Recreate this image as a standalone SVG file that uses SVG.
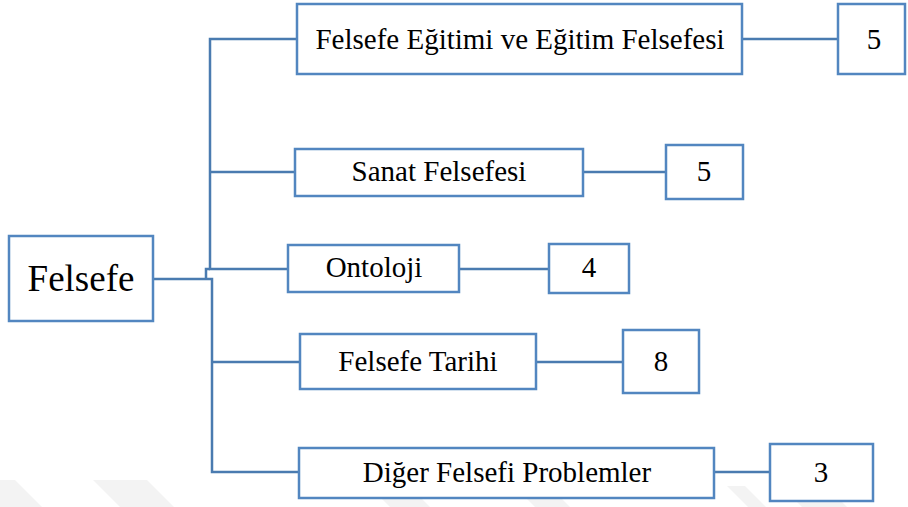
<svg xmlns="http://www.w3.org/2000/svg" width="908" height="507" viewBox="0 0 908 507">
<style>
.box{fill:#ffffff;stroke:#5286c0;stroke-width:2.5}
.ln{fill:none;stroke:#4a7bb0;stroke-width:2.5}
.t{font-family:"Liberation Serif","Times New Roman",serif;font-size:29px;fill:#000;text-anchor:middle}
.wm{fill:#f3f3f3}
</style>
<g id="watermark">
<polygon class="wm" points="-40,480 15,480 42,507 -13,507"/>
<polygon class="wm" points="93,480 147,480 174,507 120,507"/>
<polygon class="wm" points="380,497 420,497 430,507 390,507"/>
<polygon class="wm" points="525,497 560,497 570,507 535,507"/>
<polygon class="wm" points="727,486 745,486 766,507 748,507"/>
<polygon class="wm" points="795,500 840,500 847,507 802,507"/>
</g>
<g id="connectors">
<polyline class="ln" points="297,39 210,39 210,269 289,269"/>
<line class="ln" x1="210" y1="172" x2="296" y2="172"/>
<polyline class="ln" points="153,279 212,279 212,472 299,472"/>
<polyline class="ln" points="206,279 206,269 210,269"/>
<line class="ln" x1="212" y1="362" x2="300" y2="362"/>
<line class="ln" x1="742" y1="39" x2="838" y2="39"/>
<line class="ln" x1="583" y1="172" x2="666" y2="172"/>
<line class="ln" x1="459" y1="269" x2="549" y2="269"/>
<line class="ln" x1="536" y1="362" x2="623" y2="362"/>
<line class="ln" x1="714" y1="472" x2="770" y2="472"/>
</g>
<g id="n-felsefe">
<rect class="box" x="9" y="236" width="144" height="85"/>
<text class="t" x="81" y="291" style="font-size:37px">Felsefe</text>
</g>
<g id="n-egitim">
<rect class="box" x="297" y="4" width="445" height="70"/>
<text class="t" x="520" y="49">Felsefe Eğitimi ve Eğitim Felsefesi</text>
</g>
<g id="n-egitim-count">
<rect class="box" x="838" y="4" width="67" height="70"/>
<text class="t" x="874" y="49">5</text>
</g>
<g id="n-sanat">
<rect class="box" x="295" y="149" width="288" height="47"/>
<text class="t" x="439" y="181">Sanat Felsefesi</text>
</g>
<g id="n-sanat-count">
<rect class="box" x="666" y="145" width="77" height="54"/>
<text class="t" x="704" y="181">5</text>
</g>
<g id="n-ontoloji">
<rect class="box" x="288" y="245" width="171" height="47"/>
<text class="t" x="374" y="277">Ontoloji</text>
</g>
<g id="n-ontoloji-count">
<rect class="box" x="549" y="244" width="80" height="49"/>
<text class="t" x="589" y="277">4</text>
</g>
<g id="n-tarih">
<rect class="box" x="300" y="334" width="236" height="55"/>
<text class="t" x="418" y="371">Felsefe Tarihi</text>
</g>
<g id="n-tarih-count">
<rect class="box" x="623" y="330" width="76" height="63"/>
<text class="t" x="661" y="371">8</text>
</g>
<g id="n-diger">
<rect class="box" x="299" y="448" width="415" height="50"/>
<text class="t" x="507" y="482">Diğer Felsefi Problemler</text>
</g>
<g id="n-diger-count">
<rect class="box" x="770" y="444" width="103" height="57"/>
<text class="t" x="821" y="482">3</text>
</g>
</svg>
